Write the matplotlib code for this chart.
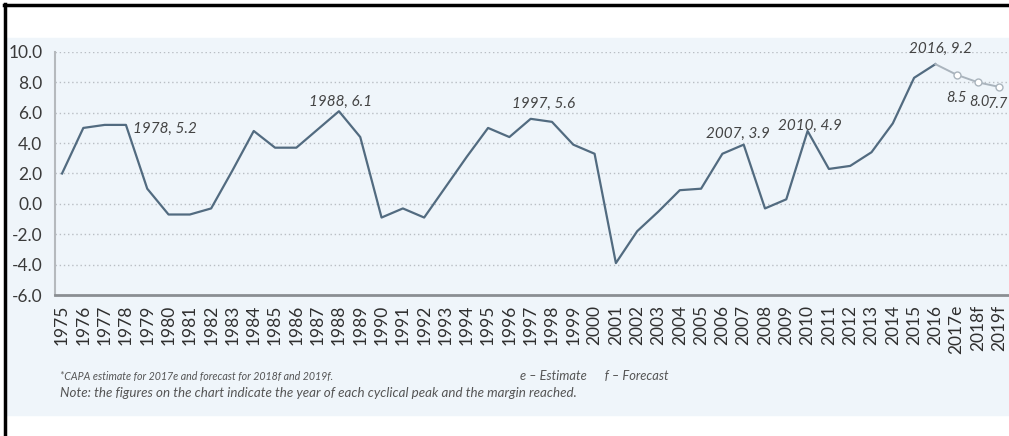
import numpy as np
import matplotlib.pyplot as plt
from matplotlib.patches import Rectangle
from matplotlib.lines import Line2D

plt.rcParams['font.family'] = ['Lato', 'DejaVu Sans']

years = [str(y) for y in range(1975, 2017)] + ['2017e', '2018f', '2019f']
margin = [2.0, 5.0, 5.2, 5.2, 1.0, -0.7, -0.7, -0.3, 2.2, 4.8,
          3.7, 3.7, 4.9, 6.1, 4.4, -0.9, -0.3, -0.9, 1.1, 3.1,
          5.0, 4.4, 5.6, 5.4, 3.9, 3.3, -3.9, -1.8, -0.5, 0.9,
          1.0, 3.3, 3.9, -0.3, 0.3, 4.8, 2.3, 2.5, 3.4, 5.3,
          8.3, 9.2, 8.5, 8.0, 7.7]
n_actual = 42  # 1975-2016 are actuals, the rest are estimate/forecast

peaks = [('1978', '1978, 5.2'), ('1988', '1988, 6.1'), ('1997', '1997, 5.6'),
         ('2007', '2007, 3.9'), ('2010', '2010, 4.9'), ('2016', '2016, 9.2')]
forecast_labels = ['8.5', '8.0', '7.7']

fig = plt.figure(figsize=(10.09, 4.36), dpi=100)

# light panel behind the chart and the black frame
fig.patches.append(Rectangle((6 / 1009, 1 - 415 / 436), 1, (415 - 38) / 436,
                             transform=fig.transFigure, color='#eff5fa', zorder=-5))
fig.add_artist(Line2D([5 / 1009, 5 / 1009], [0, 1 - 4 / 436], transform=fig.transFigure,
                      color='black', lw=2.5))
fig.add_artist(Line2D([4 / 1009, 1], [1 - 5 / 436, 1 - 5 / 436], transform=fig.transFigure,
                      color='black', lw=2.5))

ax = fig.add_axes([55 / 1009, 141 / 436, 0.957, 243 / 436])
ax.set_facecolor('none')
ax.set_zorder(2)
x = np.arange(len(years))

ax.plot(x[:n_actual], margin[:n_actual], color='#526b80', lw=1.6, zorder=3)
ax.plot(x[n_actual - 1:], margin[n_actual - 1:], color='#aab4bd', lw=1.4,
        marker='o', markersize=5, markerfacecolor='white', markeredgecolor='#aab4bd',
        markevery=[1, 2, 3], zorder=3)

ax.set_xlim(-0.33, 45)
ax.set_ylim(-6, 10)
ax.set_yticks(np.arange(-6, 10.1, 2))
ax.set_yticklabels([f'{v:.1f}' for v in np.arange(-6, 10.1, 2)])
ax.set_xticks(x)
ax.set_xticklabels(years, rotation=90)
ax.tick_params(axis='y', length=0, pad=9, labelsize=12.5, labelcolor='#3a3a3a')
ax.tick_params(axis='x', length=0, pad=7, labelsize=12.5, labelcolor='#2f2f2f')

for v in np.arange(-4, 10.1, 2):
    ax.axhline(v, color='#b9bec4', lw=1, ls=(0, (1, 2)), zorder=1)

for s in ['top', 'right']:
    ax.spines[s].set_visible(False)
ax.spines['left'].set_color('#b5b9bd')
ax.spines['left'].set_linewidth(1.5)
ax.spines['bottom'].set_color('#8a8e92')
ax.spines['bottom'].set_linewidth(2)

# cyclical peak labels (offsets in points from the peak)
offsets = {'1978': (5, -3, 'left'), '1988': (1, 7, 'center'), '1997': (9, 11, 'center'),
           '2007': (-4, 8, 'center'), '2010': (2, 4, 'center'), '2016': (4, 11, 'center')}
for yr, txt in peaks:
    i = years.index(yr)
    dx, dy, ha = offsets[yr]
    ax.annotate(txt, (x[i], margin[i]), xytext=(dx, dy), textcoords='offset points',
                ha=ha, va='center', fontsize=11, style='italic', color='#444444',
                annotation_clip=False)
fc_offsets = [(0, -17), (1, -14), (-1, -12)]
for k, txt in enumerate(forecast_labels):
    i = n_actual + k
    ax.annotate(txt, (x[i], margin[i]), xytext=fc_offsets[k], textcoords='offset points',
                ha='center', va='center', fontsize=10.5, style='italic', color='#444444',
                annotation_clip=False)

fig.text(60 / 1009, 1 - 376 / 436, '*CAPA estimate for 2017e and forecast for 2018f and 2019f.',
         fontsize=7.7, style='italic', color='#555555', va='center')
fig.text(520 / 1009, 1 - 376 / 436, 'e \u2013 Estimate      f \u2013 Forecast',
         fontsize=9.3, style='italic', color='#555555', va='center')
fig.text(60 / 1009, 1 - 393 / 436,
         'Note: the figures on the chart indicate the year of each cyclical peak and the margin reached.',
         fontsize=9.6, style='italic', color='#555555', va='center')

fig.savefig('out.png', dpi=100, facecolor='white')
